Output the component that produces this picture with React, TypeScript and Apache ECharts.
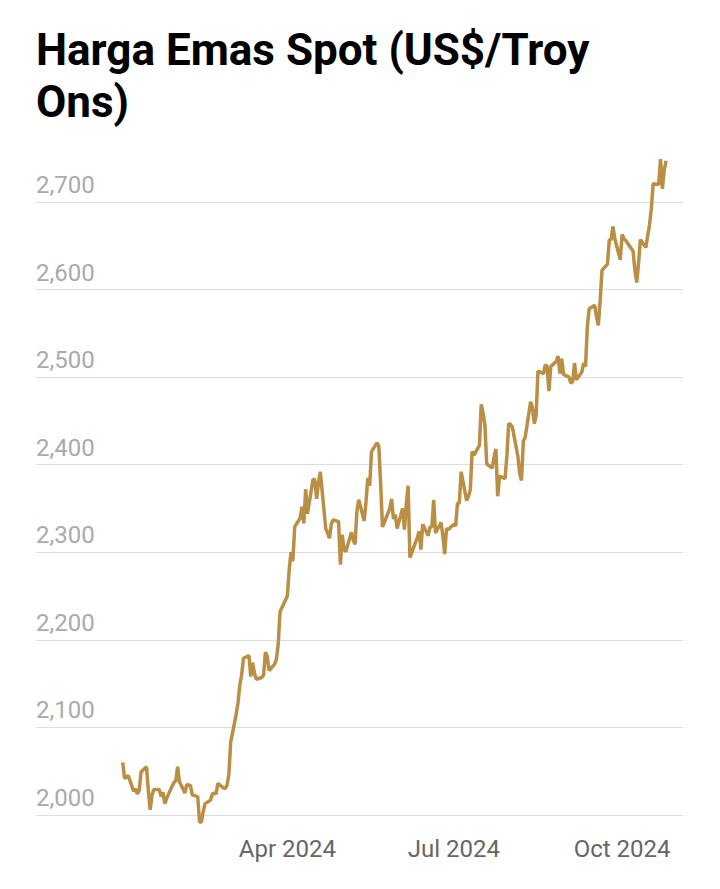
import React, { useEffect, useRef } from "react";
import * as echarts from "echarts";

const TITLE = "Harga Emas Spot (US$/Troy\nOns)";

const dates: string[] = [
  "2024-01-02","2024-01-03","2024-01-04","2024-01-05","2024-01-08","2024-01-09","2024-01-10","2024-01-11","2024-01-12",
  "2024-01-15","2024-01-16","2024-01-17","2024-01-18","2024-01-19","2024-01-22","2024-01-23","2024-01-24","2024-01-25","2024-01-26",
  "2024-01-29","2024-01-30","2024-01-31","2024-02-01","2024-02-02","2024-02-05","2024-02-06","2024-02-07","2024-02-08","2024-02-09",
  "2024-02-12","2024-02-13","2024-02-14","2024-02-15","2024-02-16","2024-02-19","2024-02-20","2024-02-21","2024-02-22","2024-02-23",
  "2024-02-26","2024-02-27","2024-02-28","2024-02-29","2024-03-01","2024-03-04","2024-03-05","2024-03-06","2024-03-07","2024-03-08",
  "2024-03-11","2024-03-12","2024-03-13","2024-03-14","2024-03-15","2024-03-18","2024-03-19","2024-03-20","2024-03-21","2024-03-22",
  "2024-03-25","2024-03-26","2024-03-27","2024-03-28","2024-04-01","2024-04-02","2024-04-03","2024-04-04","2024-04-05",
  "2024-04-08","2024-04-09","2024-04-10","2024-04-11","2024-04-12","2024-04-15","2024-04-16","2024-04-17","2024-04-18","2024-04-19",
  "2024-04-22","2024-04-23","2024-04-24","2024-04-25","2024-04-26","2024-04-29","2024-04-30","2024-05-01","2024-05-02","2024-05-03",
  "2024-05-06","2024-05-07","2024-05-08","2024-05-09","2024-05-10","2024-05-13","2024-05-14","2024-05-15","2024-05-16","2024-05-17",
  "2024-05-20","2024-05-21","2024-05-22","2024-05-23","2024-05-24","2024-05-27","2024-05-28","2024-05-29","2024-05-30","2024-05-31",
  "2024-06-03","2024-06-04","2024-06-05","2024-06-06","2024-06-07","2024-06-10","2024-06-11","2024-06-12","2024-06-13","2024-06-14",
  "2024-06-17","2024-06-18","2024-06-19","2024-06-20","2024-06-21","2024-06-24","2024-06-25","2024-06-26","2024-06-27","2024-06-28",
  "2024-07-01","2024-07-02","2024-07-03","2024-07-04","2024-07-05","2024-07-08","2024-07-09","2024-07-10","2024-07-11","2024-07-12",
  "2024-07-15","2024-07-16","2024-07-17","2024-07-18","2024-07-19","2024-07-22","2024-07-23","2024-07-24","2024-07-25","2024-07-26",
  "2024-07-29","2024-07-30","2024-07-31","2024-08-01","2024-08-02","2024-08-05","2024-08-06","2024-08-07","2024-08-08","2024-08-09",
  "2024-08-12","2024-08-13","2024-08-14","2024-08-15","2024-08-16","2024-08-19","2024-08-20","2024-08-21","2024-08-22","2024-08-23",
  "2024-08-26","2024-08-27","2024-08-28","2024-08-29","2024-08-30","2024-09-02","2024-09-03","2024-09-04","2024-09-05","2024-09-06",
  "2024-09-09","2024-09-10","2024-09-11","2024-09-12","2024-09-13","2024-09-16","2024-09-17","2024-09-18","2024-09-19","2024-09-20",
  "2024-09-23","2024-09-24","2024-09-25","2024-09-26","2024-09-27","2024-09-30","2024-10-01","2024-10-02","2024-10-03","2024-10-04",
  "2024-10-07","2024-10-08","2024-10-09","2024-10-10","2024-10-11","2024-10-14","2024-10-15","2024-10-16","2024-10-17","2024-10-18",
  "2024-10-21","2024-10-22","2024-10-23","2024-10-24","2024-10-25"
];

const prices: number[] = [
  2060,2042,2043,2045,2027,2030,2024,2028,2049,
  2055,2028,2006,2023,2029,2029,2021,2026,2013,2019,
  2033,2037,2039,2055,2038,2025,2035,2034,2034,2023,
  2021,1992,1992,2004,2013,2017,2024,2025,2024,2036,
  2031,2030,2034,2046,2083,2115,2128,2148,2160,2179,
  2182,2158,2174,2162,2155,2157,2160,2186,2181,2165,
  2172,2178,2195,2232,2250,2280,2300,2290,2329,
  2339,2352,2333,2372,2344,2383,2383,2361,2379,2392,
  2327,2322,2316,2332,2337,2335,2286,2320,2303,2301,
  2323,2314,2309,2346,2360,2336,2358,2385,2376,2415,
  2425,2421,2378,2329,2334,2350,2361,2338,2343,2327,
  2350,2326,2355,2376,2294,2311,2316,2324,2303,2332,
  2319,2329,2329,2360,2322,2334,2319,2298,2327,2326,
  2332,2330,2356,2356,2392,2359,2364,2371,2415,2411,
  2422,2469,2459,2445,2401,2396,2409,2418,2364,2387,
  2384,2410,2447,2446,2443,2410,2390,2382,2427,2431,
  2472,2465,2447,2456,2507,2504,2514,2512,2484,2512,
  2518,2524,2504,2521,2503,2500,2493,2495,2516,2497,
  2506,2516,2512,2558,2578,2582,2569,2559,2587,2622,
  2629,2657,2657,2672,2658,2634,2663,2658,2656,2653,
  2644,2622,2608,2630,2657,2648,2662,2674,2693,2721,
  2720,2749,2715,2736,2747
];

const yTicks = { min: 2000, max: 2700, interval: 100 };
const xLabelDates: string[] = ["2024-04-01", "2024-07-01", "2024-10-01"];
const monthNames: string[] = ["Jan","Feb","Mar","Apr","May","Jun","Jul","Aug","Sep","Oct","Nov","Dec"];

function ts(s: string, hour = 0): number {
  const [y, m, d] = s.split("-").map(Number);
  return new Date(y, m - 1, d, hour).getTime();
}

export default function App() {
  const ref = useRef<HTMLDivElement>(null);
  useEffect(() => {
    document.body.style.margin = "0";
    if (!ref.current) return;
    const chart = echarts.init(ref.current, undefined, { renderer: "svg" });
    const data = dates.map((d, i) => [ts(d), prices[i]]);
    chart.setOption({
      animation: false,
      backgroundColor: "#ffffff",
      title: {
        text: TITLE,
        left: 36,
        top: 24,
        padding: 0,
        textStyle: {
          fontFamily: "Roboto",
          fontWeight: "bold",
          fontSize: 44,
          lineHeight: 52,
          color: "#000000",
        },
      },
      grid: { left: 36, right: 37, top: 202, bottom: 74, containLabel: false },
      xAxis: {
        type: "value",
        min: ts("2023-11-15", 14),
        max: ts("2024-11-03", 7),
        axisLine: { show: false },
        axisTick: { show: false },
        splitLine: { show: false },
        axisLabel: {
          customValues: xLabelDates.map((d) => ts(d)),
          formatter: (v: number) => {
            const dt = new Date(v);
            return monthNames[dt.getMonth()] + " " + dt.getFullYear();
          },
          fontFamily: "Roboto",
          fontSize: 24,
          color: "#666666",
          margin: 22,
          hideOverlap: false,
        },
      },
      yAxis: {
        type: "value",
        min: yTicks.min,
        max: yTicks.max,
        interval: yTicks.interval,
        axisLine: { show: false },
        axisTick: { show: false },
        splitLine: { show: true, lineStyle: { color: "#dddddd", width: 1 } },
        axisLabel: {
          inside: true,
          margin: 0,
          align: "left",
          verticalAlign: "bottom",
          padding: [0, 0, 5, 0],
          fontFamily: "Roboto",
          fontSize: 24,
          color: "#aaaaaa",
          formatter: (v: number) => v.toLocaleString("en-US"),
        },
      },
      series: [
        {
          type: "line",
          data,
          clip: false,
          showSymbol: false,
          symbol: "none",
          lineStyle: { color: "#B98F45", width: 3.5 },
          z: 3,
        },
      ],
    });
    return () => chart.dispose();
  }, []);
  return <div ref={ref} style={{ width: 720, height: 889 }} />;
}
